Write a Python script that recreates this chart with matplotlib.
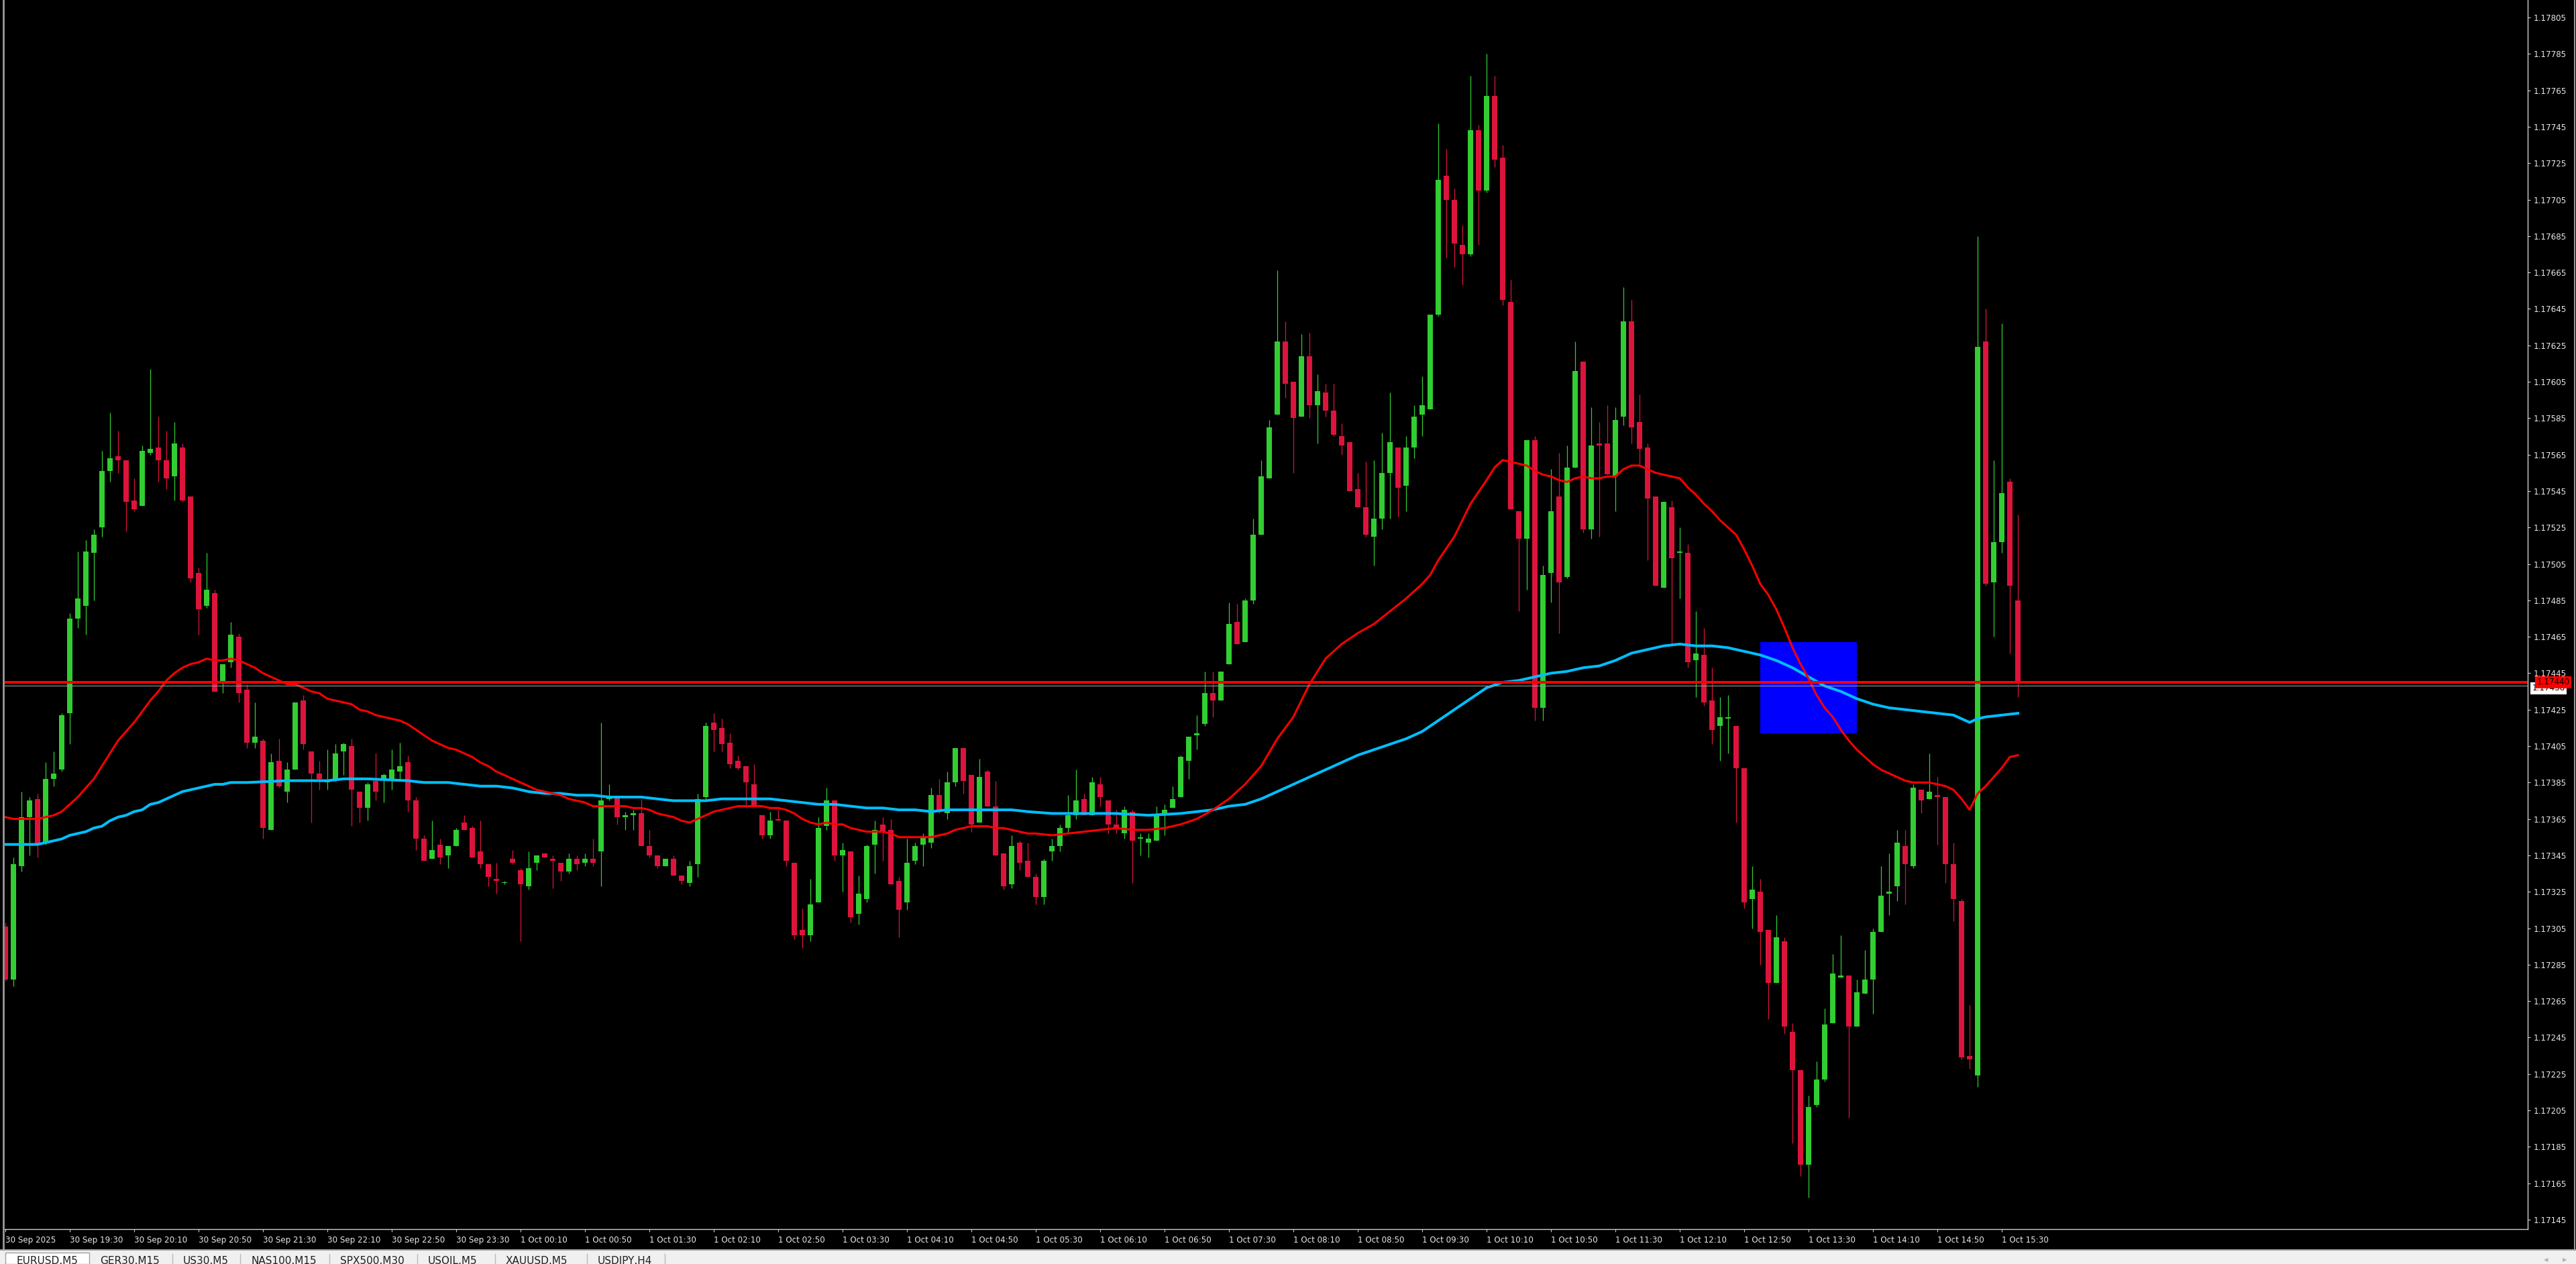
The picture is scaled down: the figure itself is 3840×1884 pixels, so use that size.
import matplotlib
matplotlib.use("Agg")
import matplotlib.pyplot as plt
from matplotlib.patches import Rectangle
from matplotlib.lines import Line2D
import numpy as np

# EURUSD M5, one value per 5-minute bar, first bar 30 Sep 2025 18:50
opens = [
    1.17306, 1.17277, 1.17339, 1.17366, 1.17376, 1.17352, 1.17387, 1.17392, 1.17423, 1.17475,
    1.17482, 1.17511, 1.17525, 1.17556, 1.17564, 1.17562, 1.17540, 1.17537, 1.17566, 1.17569,
    1.17562, 1.17553, 1.17569, 1.17542, 1.17500, 1.17482, 1.17489, 1.17440, 1.17451, 1.17465,
    1.17436, 1.17407, 1.17408, 1.17359, 1.17397, 1.17380, 1.17392, 1.17430, 1.17402, 1.17390,
    1.17385, 1.17386, 1.17402, 1.17405, 1.17380, 1.17371, 1.17386, 1.17387, 1.17387, 1.17391,
    1.17396, 1.17375, 1.17354, 1.17343, 1.17351, 1.17345, 1.17350, 1.17363, 1.17360, 1.17347,
    1.17340, 1.17332, 1.17330, 1.17343, 1.17337, 1.17328, 1.17341, 1.17346, 1.17343, 1.17341,
    1.17336, 1.17343, 1.17341, 1.17343, 1.17347, 1.17376, 1.17377, 1.17366, 1.17367, 1.17368,
    1.17350, 1.17345, 1.17339, 1.17343, 1.17334, 1.17330, 1.17340, 1.17377, 1.17418, 1.17415,
    1.17407, 1.17397, 1.17394, 1.17384, 1.17367, 1.17356, 1.17365, 1.17364, 1.17341, 1.17304,
    1.17301, 1.17319, 1.17361, 1.17375, 1.17345, 1.17347, 1.17313, 1.17321, 1.17351, 1.17362,
    1.17359, 1.17331, 1.17319, 1.17342, 1.17351, 1.17352, 1.17378, 1.17368, 1.17385, 1.17404,
    1.17389, 1.17363, 1.17391, 1.17372, 1.17346, 1.17329, 1.17352, 1.17342, 1.17333, 1.17322,
    1.17347, 1.17350, 1.17360, 1.17367, 1.17376, 1.17367, 1.17384, 1.17375, 1.17362, 1.17357,
    1.17369, 1.17354, 1.17352, 1.17353, 1.17367, 1.17371, 1.17377, 1.17397, 1.17411, 1.17417,
    1.17434, 1.17430, 1.17450, 1.17473, 1.17462, 1.17485, 1.17521, 1.17552, 1.17587, 1.17627,
    1.17605, 1.17586, 1.17619, 1.17592, 1.17599, 1.17589, 1.17575, 1.17572, 1.17546, 1.17536,
    1.17520, 1.17530, 1.17555, 1.17569, 1.17548, 1.17569, 1.17587, 1.17590, 1.17642, 1.17718,
    1.17705, 1.17680, 1.17675, 1.17743, 1.17710, 1.17762, 1.17728, 1.17649, 1.17534, 1.17519,
    1.17573, 1.17426, 1.17500, 1.17542, 1.17498, 1.17558, 1.17616, 1.17524, 1.17571, 1.17571,
    1.17553, 1.17586, 1.17638, 1.17583, 1.17569, 1.17542, 1.17492, 1.17536, 1.17511, 1.17511,
    1.17452, 1.17455, 1.17430, 1.17416, 1.17420, 1.17416, 1.17393, 1.17321, 1.17325, 1.17304,
    1.17275, 1.17298, 1.17248, 1.17227, 1.17175, 1.17208, 1.17222, 1.17253, 1.17278, 1.17279,
    1.17251, 1.17269, 1.17277, 1.17303, 1.17324, 1.17328, 1.17350, 1.17339, 1.17381, 1.17376,
    1.17378, 1.17377, 1.17340, 1.17320, 1.17235, 1.17224, 1.17627, 1.17495, 1.17517, 1.17550,
    1.17485,
]
highs = [
    1.17308, 1.17344, 1.17380, 1.17377, 1.17379, 1.17396, 1.17402, 1.17423, 1.17478, 1.17512,
    1.17518, 1.17524, 1.17567, 1.17588, 1.17578, 1.17562, 1.17552, 1.17570, 1.17612, 1.17586,
    1.17578, 1.17583, 1.17571, 1.17542, 1.17503, 1.17511, 1.17491, 1.17450, 1.17473, 1.17467,
    1.17439, 1.17429, 1.17409, 1.17401, 1.17409, 1.17396, 1.17429, 1.17433, 1.17402, 1.17397,
    1.17403, 1.17406, 1.17407, 1.17409, 1.17380, 1.17385, 1.17401, 1.17390, 1.17403, 1.17407,
    1.17400, 1.17377, 1.17356, 1.17364, 1.17354, 1.17350, 1.17360, 1.17367, 1.17361, 1.17364,
    1.17340, 1.17341, 1.17331, 1.17348, 1.17338, 1.17347, 1.17345, 1.17346, 1.17345, 1.17341,
    1.17346, 1.17345, 1.17346, 1.17354, 1.17418, 1.17384, 1.17377, 1.17369, 1.17370, 1.17376,
    1.17359, 1.17345, 1.17343, 1.17345, 1.17334, 1.17342, 1.17379, 1.17418, 1.17423, 1.17420,
    1.17412, 1.17400, 1.17394, 1.17395, 1.17367, 1.17369, 1.17370, 1.17364, 1.17341, 1.17316,
    1.17332, 1.17366, 1.17382, 1.17375, 1.17352, 1.17347, 1.17334, 1.17351, 1.17364, 1.17366,
    1.17365, 1.17333, 1.17354, 1.17352, 1.17357, 1.17382, 1.17387, 1.17391, 1.17404, 1.17404,
    1.17389, 1.17398, 1.17392, 1.17386, 1.17346, 1.17356, 1.17353, 1.17352, 1.17335, 1.17343,
    1.17354, 1.17362, 1.17378, 1.17392, 1.17379, 1.17388, 1.17388, 1.17375, 1.17370, 1.17372,
    1.17370, 1.17357, 1.17357, 1.17372, 1.17373, 1.17383, 1.17400, 1.17410, 1.17422, 1.17446,
    1.17446, 1.17446, 1.17484, 1.17483, 1.17486, 1.17530, 1.17562, 1.17584, 1.17666, 1.17638,
    1.17605, 1.17631, 1.17632, 1.17609, 1.17604, 1.17604, 1.17582, 1.17572, 1.17555, 1.17561,
    1.17562, 1.17577, 1.17599, 1.17569, 1.17575, 1.17592, 1.17608, 1.17642, 1.17747, 1.17733,
    1.17711, 1.17691, 1.17773, 1.17746, 1.17785, 1.17773, 1.17735, 1.17661, 1.17534, 1.17573,
    1.17575, 1.17504, 1.17557, 1.17566, 1.17570, 1.17627, 1.17616, 1.17591, 1.17583, 1.17592,
    1.17591, 1.17657, 1.17650, 1.17598, 1.17571, 1.17542, 1.17539, 1.17540, 1.17525, 1.17516,
    1.17479, 1.17470, 1.17448, 1.17432, 1.17433, 1.17416, 1.17393, 1.17339, 1.17332, 1.17304,
    1.17312, 1.17300, 1.17253, 1.17227, 1.17213, 1.17232, 1.17261, 1.17291, 1.17301, 1.17279,
    1.17277, 1.17293, 1.17305, 1.17339, 1.17346, 1.17359, 1.17359, 1.17384, 1.17381, 1.17401,
    1.17388, 1.17377, 1.17352, 1.17321, 1.17263, 1.17685, 1.17645, 1.17562, 1.17637, 1.17552,
    1.17532,
]
lows = [
    1.17276, 1.17273, 1.17336, 1.17345, 1.17344, 1.17351, 1.17383, 1.17391, 1.17406, 1.17470,
    1.17466, 1.17485, 1.17520, 1.17550, 1.17555, 1.17523, 1.17534, 1.17537, 1.17565, 1.17550,
    1.17546, 1.17540, 1.17539, 1.17495, 1.17466, 1.17481, 1.17435, 1.17434, 1.17448, 1.17429,
    1.17404, 1.17404, 1.17354, 1.17359, 1.17382, 1.17374, 1.17392, 1.17403, 1.17363, 1.17381,
    1.17381, 1.17386, 1.17389, 1.17361, 1.17363, 1.17364, 1.17375, 1.17374, 1.17381, 1.17387,
    1.17369, 1.17348, 1.17342, 1.17343, 1.17340, 1.17338, 1.17350, 1.17359, 1.17344, 1.17338,
    1.17328, 1.17324, 1.17329, 1.17340, 1.17298, 1.17326, 1.17337, 1.17344, 1.17327, 1.17331,
    1.17335, 1.17337, 1.17339, 1.17339, 1.17328, 1.17375, 1.17362, 1.17359, 1.17359, 1.17350,
    1.17344, 1.17338, 1.17339, 1.17334, 1.17329, 1.17328, 1.17333, 1.17376, 1.17402, 1.17402,
    1.17393, 1.17392, 1.17371, 1.17372, 1.17354, 1.17354, 1.17364, 1.17339, 1.17299, 1.17294,
    1.17298, 1.17319, 1.17359, 1.17342, 1.17325, 1.17308, 1.17307, 1.17319, 1.17335, 1.17342,
    1.17329, 1.17300, 1.17315, 1.17340, 1.17339, 1.17349, 1.17368, 1.17365, 1.17383, 1.17379,
    1.17358, 1.17363, 1.17372, 1.17345, 1.17326, 1.17327, 1.17337, 1.17333, 1.17318, 1.17318,
    1.17342, 1.17347, 1.17357, 1.17365, 1.17367, 1.17367, 1.17372, 1.17357, 1.17357, 1.17354,
    1.17330, 1.17345, 1.17344, 1.17353, 1.17356, 1.17371, 1.17377, 1.17387, 1.17403, 1.17416,
    1.17421, 1.17430, 1.17450, 1.17461, 1.17462, 1.17483, 1.17521, 1.17552, 1.17587, 1.17596,
    1.17555, 1.17586, 1.17585, 1.17571, 1.17586, 1.17575, 1.17565, 1.17545, 1.17536, 1.17520,
    1.17504, 1.17524, 1.17530, 1.17531, 1.17534, 1.17563, 1.17575, 1.17590, 1.17641, 1.17673,
    1.17668, 1.17658, 1.17674, 1.17680, 1.17709, 1.17723, 1.17647, 1.17535, 1.17479, 1.17491,
    1.17419, 1.17419, 1.17484, 1.17467, 1.17497, 1.17558, 1.17522, 1.17519, 1.17520, 1.17554,
    1.17534, 1.17581, 1.17571, 1.17559, 1.17507, 1.17493, 1.17492, 1.17461, 1.17486, 1.17448,
    1.17432, 1.17427, 1.17406, 1.17397, 1.17401, 1.17363, 1.17316, 1.17305, 1.17285, 1.17255,
    1.17275, 1.17247, 1.17187, 1.17169, 1.17157, 1.17207, 1.17221, 1.17253, 1.17278, 1.17201,
    1.17251, 1.17269, 1.17258, 1.17303, 1.17312, 1.17320, 1.17318, 1.17338, 1.17368, 1.17376,
    1.17351, 1.17330, 1.17309, 1.17233, 1.17228, 1.17218, 1.17493, 1.17465, 1.17511, 1.17456,
    1.17432,
]
closes = [
    1.17277, 1.17340, 1.17366, 1.17375, 1.17351, 1.17387, 1.17390, 1.17422, 1.17475, 1.17486,
    1.17512, 1.17521, 1.17556, 1.17563, 1.17562, 1.17539, 1.17535, 1.17567, 1.17568, 1.17562,
    1.17552, 1.17571, 1.17540, 1.17497, 1.17480, 1.17491, 1.17435, 1.17450, 1.17466, 1.17434,
    1.17407, 1.17410, 1.17360, 1.17396, 1.17383, 1.17392, 1.17429, 1.17406, 1.17390, 1.17387,
    1.17386, 1.17401, 1.17406, 1.17381, 1.17371, 1.17384, 1.17380, 1.17389, 1.17392, 1.17394,
    1.17375, 1.17354, 1.17342, 1.17348, 1.17344, 1.17350, 1.17359, 1.17359, 1.17344, 1.17340,
    1.17333, 1.17331, 1.17330, 1.17341, 1.17329, 1.17338, 1.17345, 1.17344, 1.17342, 1.17336,
    1.17343, 1.17340, 1.17343, 1.17341, 1.17375, 1.17377, 1.17366, 1.17367, 1.17368, 1.17350,
    1.17345, 1.17339, 1.17343, 1.17334, 1.17331, 1.17339, 1.17376, 1.17416, 1.17414, 1.17406,
    1.17395, 1.17393, 1.17385, 1.17372, 1.17356, 1.17364, 1.17364, 1.17342, 1.17301, 1.17301,
    1.17318, 1.17360, 1.17375, 1.17345, 1.17348, 1.17311, 1.17324, 1.17350, 1.17359, 1.17358,
    1.17329, 1.17315, 1.17341, 1.17350, 1.17355, 1.17378, 1.17370, 1.17385, 1.17404, 1.17386,
    1.17362, 1.17388, 1.17372, 1.17345, 1.17328, 1.17350, 1.17341, 1.17333, 1.17322, 1.17342,
    1.17350, 1.17360, 1.17367, 1.17375, 1.17367, 1.17385, 1.17377, 1.17362, 1.17360, 1.17370,
    1.17353, 1.17355, 1.17354, 1.17367, 1.17370, 1.17376, 1.17399, 1.17410, 1.17412, 1.17434,
    1.17430, 1.17446, 1.17472, 1.17461, 1.17485, 1.17521, 1.17553, 1.17580, 1.17627, 1.17604,
    1.17585, 1.17619, 1.17592, 1.17600, 1.17589, 1.17576, 1.17570, 1.17545, 1.17536, 1.17521,
    1.17530, 1.17555, 1.17572, 1.17547, 1.17569, 1.17586, 1.17592, 1.17642, 1.17716, 1.17705,
    1.17681, 1.17675, 1.17743, 1.17710, 1.17762, 1.17727, 1.17650, 1.17535, 1.17519, 1.17573,
    1.17426, 1.17499, 1.17534, 1.17495, 1.17558, 1.17611, 1.17524, 1.17570, 1.17570, 1.17554,
    1.17584, 1.17638, 1.17580, 1.17568, 1.17541, 1.17493, 1.17539, 1.17508, 1.17512, 1.17451,
    1.17456, 1.17429, 1.17414, 1.17421, 1.17421, 1.17393, 1.17319, 1.17326, 1.17303, 1.17275,
    1.17300, 1.17251, 1.17227, 1.17175, 1.17207, 1.17222, 1.17252, 1.17280, 1.17279, 1.17251,
    1.17270, 1.17277, 1.17303, 1.17323, 1.17325, 1.17352, 1.17340, 1.17382, 1.17375, 1.17380,
    1.17377, 1.17340, 1.17321, 1.17234, 1.17233, 1.17624, 1.17494, 1.17517, 1.17544, 1.17493,
    1.17440,
]

# red moving average (bar index, value)
fast_ma_bars = (list(range(0, 128)) + list(range(128, 177, 2))
                + [177, 178, 180, 182, 184, 185, 186, 187, 188, 189]
                + list(range(190, 251)))
fast_ma = [
    1.17366, 1.17365, 1.17365, 1.17365, 1.17365, 1.17366, 1.17367, 1.17369, 1.17373, 1.17377,
    1.17382, 1.17387, 1.17394, 1.17401, 1.17408, 1.17413, 1.17418, 1.17424, 1.17430, 1.17435,
    1.17441, 1.17445, 1.17448, 1.17450, 1.17451, 1.17453, 1.17452, 1.17452, 1.17453, 1.17452,
    1.17450, 1.17448, 1.17445, 1.17443, 1.17441, 1.17439, 1.17439, 1.17437, 1.17435, 1.17434,
    1.17431, 1.17430, 1.17429, 1.17428, 1.17425, 1.17424, 1.17422, 1.17421, 1.17420, 1.17419,
    1.17417, 1.17414, 1.17411, 1.17408, 1.17406, 1.17404, 1.17403, 1.17401, 1.17399, 1.17396,
    1.17394, 1.17391, 1.17389, 1.17387, 1.17385, 1.17383, 1.17381, 1.17380, 1.17379, 1.17378,
    1.17376, 1.17375, 1.17374, 1.17372, 1.17372, 1.17372, 1.17372, 1.17372, 1.17371, 1.17371,
    1.17370, 1.17368, 1.17367, 1.17366, 1.17364, 1.17363, 1.17365, 1.17367, 1.17369, 1.17370,
    1.17371, 1.17372, 1.17372, 1.17372, 1.17372, 1.17371, 1.17371, 1.17370, 1.17368, 1.17365,
    1.17363, 1.17362, 1.17363, 1.17362, 1.17362, 1.17360, 1.17359, 1.17358, 1.17358, 1.17358,
    1.17357, 1.17355, 1.17355, 1.17355, 1.17355, 1.17355, 1.17356, 1.17357, 1.17359, 1.17360,
    1.17361, 1.17361, 1.17361, 1.17360, 1.17360, 1.17359, 1.17358, 1.17357,
    1.17357, 1.17356, 1.17357, 1.17358, 1.17359, 1.17360, 1.17359, 1.17359, 1.17360, 1.17362,
    1.17365, 1.17370, 1.17376, 1.17384, 1.17394, 1.17409, 1.17421, 1.17439, 1.17453, 1.17461,
    1.17467, 1.17472, 1.17479, 1.17486, 1.17494,
    1.17499, 1.17507, 1.17520, 1.17538, 1.17551, 1.17558, 1.17562, 1.17561, 1.17560, 1.17559,
    1.17556, 1.17554, 1.17553, 1.17551, 1.17550, 1.17552, 1.17553, 1.17552, 1.17552, 1.17553,
    1.17553, 1.17557, 1.17559, 1.17559, 1.17557, 1.17555, 1.17554, 1.17553, 1.17552, 1.17547,
    1.17543, 1.17538, 1.17534, 1.17529, 1.17525, 1.17521, 1.17513, 1.17504, 1.17494, 1.17488,
    1.17480, 1.17470, 1.17459, 1.17450, 1.17442, 1.17433, 1.17426, 1.17421, 1.17414, 1.17408,
    1.17403, 1.17399, 1.17395, 1.17392, 1.17390, 1.17388, 1.17386, 1.17385, 1.17385, 1.17385,
    1.17384, 1.17383, 1.17381, 1.17376, 1.17370, 1.17379, 1.17383, 1.17388, 1.17393, 1.17399,
    1.17400,
]

# light blue moving average (bar index, value)
slow_ma_bars = [
    0, 1, 2, 3, 4, 5, 6, 7, 8, 9, 10, 11, 12, 13, 14, 15, 16, 17, 18, 19,
    20, 21, 22, 23, 24, 25, 26, 27, 28, 29, 30, 35, 40, 42, 45, 50, 52, 55, 57, 59,
    61, 63, 65, 67, 69, 71, 73, 75, 77, 79, 81, 83, 85, 87, 89, 91, 93, 95, 97, 99,
    101, 103, 105, 107, 109, 111, 113, 115, 117, 119, 121, 123, 125, 127, 130, 134, 138, 142, 146, 150,
    152, 154, 156, 158, 160, 162, 164, 166, 168, 170, 172, 174, 176, 178, 180, 182, 184, 186, 188, 190,
    192, 194, 196, 198, 200, 202, 204, 206, 208, 210, 212, 214, 216, 218, 220, 222, 224, 226, 228, 230,
    232, 234, 236, 238, 240, 242, 244, 245, 246, 248, 250,
]
slow_ma = [
    1.17351, 1.17351, 1.17351, 1.17351, 1.17351, 1.17352, 1.17353, 1.17354, 1.17356, 1.17357,
    1.17358, 1.17360, 1.17361, 1.17364, 1.17366, 1.17367, 1.17369, 1.17370, 1.17373, 1.17374,
    1.17376, 1.17378, 1.17380, 1.17381, 1.17382, 1.17383, 1.17384, 1.17384, 1.17385, 1.17385,
    1.17385, 1.17386, 1.17386, 1.17387, 1.17387, 1.17386, 1.17385, 1.17385, 1.17384, 1.17383,
    1.17383, 1.17382, 1.17380, 1.17379, 1.17379, 1.17378, 1.17378, 1.17377, 1.17377, 1.17377,
    1.17376, 1.17375, 1.17375, 1.17375, 1.17376, 1.17376, 1.17376, 1.17376, 1.17375, 1.17374,
    1.17373, 1.17373, 1.17372, 1.17371, 1.17371, 1.17370, 1.17370, 1.17369, 1.17370, 1.17370,
    1.17370, 1.17370, 1.17370, 1.17369, 1.17368, 1.17368, 1.17368, 1.17367, 1.17368, 1.17370,
    1.17372, 1.17373, 1.17376, 1.17380, 1.17384, 1.17388, 1.17392, 1.17396, 1.17400, 1.17403,
    1.17406, 1.17409, 1.17413, 1.17419, 1.17425, 1.17431, 1.17437, 1.17440, 1.17441, 1.17443,
    1.17445, 1.17446, 1.17448, 1.17449, 1.17452, 1.17456, 1.17458, 1.17460, 1.17461, 1.17460,
    1.17460, 1.17459, 1.17457, 1.17455, 1.17452, 1.17448, 1.17443, 1.17438, 1.17435, 1.17431,
    1.17428, 1.17426, 1.17425, 1.17424, 1.17423, 1.17422, 1.17418, 1.17420, 1.17421, 1.17422,
    1.17423,
]

time_labels = [
    "30 Sep 2025", "30 Sep 19:30", "30 Sep 20:10", "30 Sep 20:50", "30 Sep 21:30",
    "30 Sep 22:10", "30 Sep 22:50", "30 Sep 23:30", "1 Oct 00:10", "1 Oct 00:50",
    "1 Oct 01:30", "1 Oct 02:10", "1 Oct 02:50", "1 Oct 03:30", "1 Oct 04:10",
    "1 Oct 04:50", "1 Oct 05:30", "1 Oct 06:10", "1 Oct 06:50", "1 Oct 07:30",
    "1 Oct 08:10", "1 Oct 08:50", "1 Oct 09:30", "1 Oct 10:10", "1 Oct 10:50",
    "1 Oct 11:30", "1 Oct 12:10", "1 Oct 12:50", "1 Oct 13:30", "1 Oct 14:10",
    "1 Oct 14:50", "1 Oct 15:30",
]
price_ticks = np.round(np.arange(1.17145, 1.17806, 0.0002), 5)

level_price = 1.17440   # red horizontal line
bid_price = 1.17438     # thin grey line
box_start, box_end = 218, 230          # blue rectangle, bar indices
box_low, box_high = 1.17412, 1.17462

tabs = ["EURUSD,M5", "GER30,M15", "US30,M5", "NAS100,M15",
        "SPX500,M30", "USOIL,M5", "XAUUSD,M5", "USDJPY,H4"]

W, H = 3840, 1884
BULL = "#32CD32"
BEAR = "#DC143C"
FG = "#D0D0D0"


def fx(px):
    return px / W


def fy(py):
    return 1 - py / H


fig = plt.figure(figsize=(W / 100, H / 100), dpi=100, facecolor="black")
ax = fig.add_axes([fx(7), fy(1832), fx(3768) - fx(7), fy(0) - fy(1832)])
ax.set_facecolor("black")
ax.set_xlim(-0.08, 313.33)
ax.set_ylim(1.171398, 1.178146)

o = np.array(opens)
hi = np.array(highs)
lo = np.array(lows)
c = np.array(closes)
x = np.arange(len(o))
up = c >= o
body_lo = np.minimum(o, c)
body_h = np.maximum(np.abs(c - o), 0.000004)
for mask, col in ((up, BULL), (~up, BEAR)):
    ax.vlines(x[mask], lo[mask], hi[mask], color=col, lw=0.9, zorder=2)
    ax.bar(x[mask], body_h[mask], bottom=body_lo[mask], width=0.6,
           color=col, linewidth=0, zorder=2.1)

ax.add_patch(Rectangle((box_start, box_low), box_end - box_start, box_high - box_low,
                       facecolor="#0000FF", edgecolor="none", zorder=1))

ax.plot(slow_ma_bars, slow_ma, color="#00BFFF", lw=2.9, zorder=3)
ax.plot(fast_ma_bars, fast_ma, color="#FF0000", lw=2.2, zorder=3.1)

ax.axhline(bid_price, color="#9A9A9A", lw=0.8, zorder=3.9)
ax.axhline(level_price, color="#FF0000", lw=2.9, zorder=4)

for s in ("top", "left"):
    ax.spines[s].set_visible(False)
for s in ("right", "bottom"):
    ax.spines[s].set_color(FG)
    ax.spines[s].set_linewidth(1.0)

ax.yaxis.tick_right()
ax.set_yticks(price_ticks)
ax.set_yticklabels([f"{v:.5f}" for v in price_ticks])
ax.tick_params(axis="y", colors=FG, labelcolor="#E8E8E8", length=3, width=0.8,
               pad=3.5, labelsize=8.6)

ax.set_xticks(range(0, 8 * len(time_labels), 8))
ax.set_xticklabels(time_labels, ha="left")
ax.tick_params(axis="x", colors=FG, labelcolor="#E8E8E8", length=3, width=0.8,
               pad=4, labelsize=8.6)

# price labels on the scale
ax.text(1.0018, bid_price - 0.000012, f"{bid_price:.5f}", transform=ax.get_yaxis_transform(),
        ha="left", va="center", fontsize=8.6, color="black", clip_on=False, zorder=9,
        bbox=dict(boxstyle="square,pad=0.2", fc="white", ec="none"))
ax.text(1.0036, level_price, f"{level_price:.5f}", transform=ax.get_yaxis_transform(),
        ha="left", va="center", fontsize=8.6, color="black", clip_on=False, zorder=10,
        bbox=dict(boxstyle="square,pad=0.2", fc="#FF0000", ec="none"))

# window frame and tab bar
fig.add_artist(Line2D([fx(5), fx(5)], [fy(0), fy(1862)], color="#9A9A9A", lw=2))
fig.add_artist(Line2D([fx(3838), fx(3838)], [fy(0), fy(1862)], color="#9A9A9A", lw=1.5))
fig.add_artist(Rectangle((0, 0), 1, fy(1864), transform=fig.transFigure,
                         facecolor="#F0F0F0", edgecolor="none"))
fig.add_artist(Line2D([0, 1], [fy(1863), fy(1863)], color="#A0A0A0", lw=1.5))
tab_edges = [8, 133, 257, 358, 491, 622, 738, 875, 991]
fig.add_artist(Rectangle((fx(tab_edges[0]), 0), fx(tab_edges[1]) - fx(tab_edges[0]), fy(1867),
                         transform=fig.transFigure, facecolor="white",
                         edgecolor="#A0A0A0", lw=1))
for i, name in enumerate(tabs):
    fig.text(fx(tab_edges[i] + 16), fy(1872), name, ha="left", va="top",
             fontsize=11, color="#202020")
    if i > 0:
        fig.add_artist(Line2D([fx(tab_edges[i + 1]), fx(tab_edges[i + 1])],
                              [0, fy(1869)], color="#B8B8B8", lw=1))
fig.text(fx(3795), fy(1878), "\u25c0", ha="center", va="center", fontsize=6, color="#B0B0B0")
fig.text(fx(3823), fy(1878), "\u25b6", ha="center", va="center", fontsize=6, color="#B0B0B0")

fig.savefig("out.png", dpi=100, facecolor="black")
